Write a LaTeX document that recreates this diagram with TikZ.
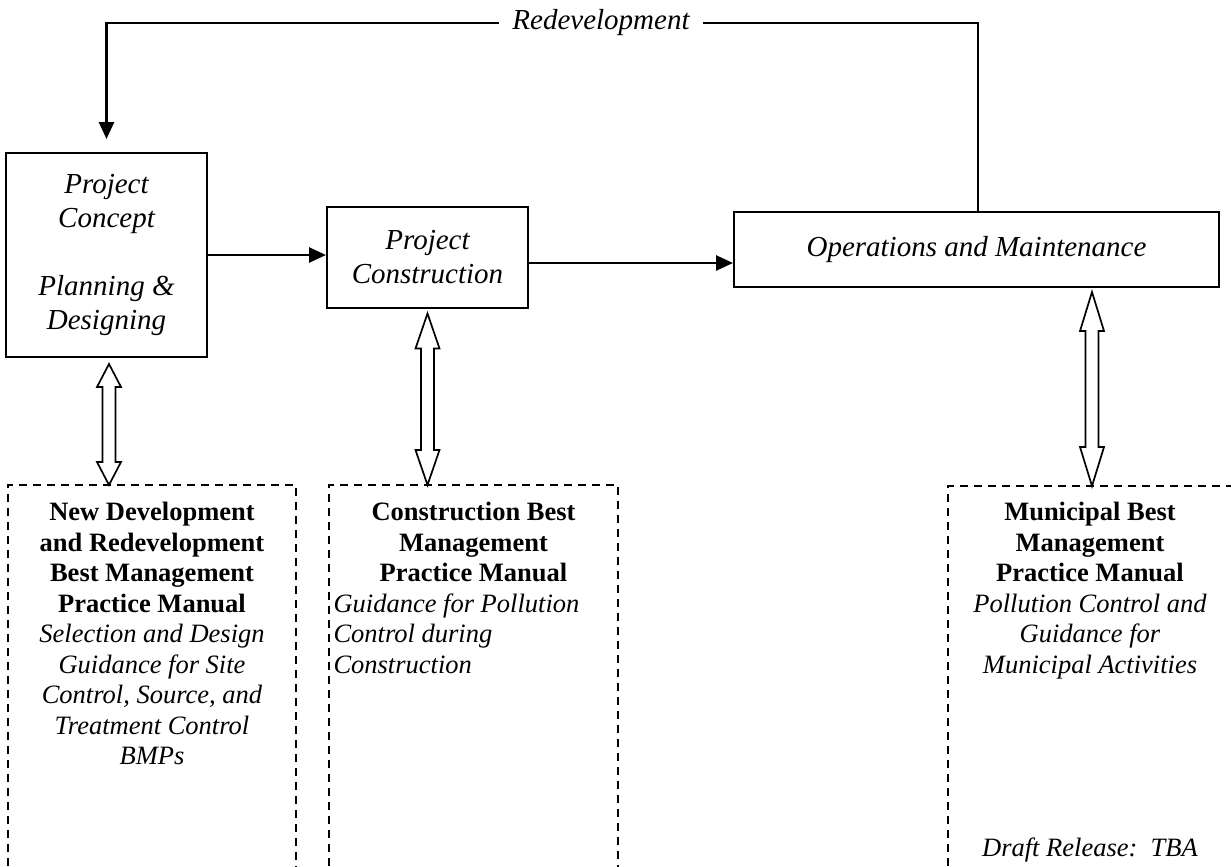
\documentclass[tikz,border=0pt]{standalone}
\usepackage{fontspec}
\setmainfont{Liberation Serif}
\usetikzlibrary{arrows.meta,calc}
\newcommand\topfont{\fontsize{29}{34}\selectfont\itshape}
\newcommand\botfont{\fontsize{26.5}{30.5}\selectfont}
% hollow double arrow between two named coordinates (#1 top, #2 bottom), head length #3
\newcommand\dblarr[3]{%
  \draw[hollow] let \p1=(#1), \p2=(#2) in
    (\x1,\y1) -- (\x1+12pt,\y1-#3pt) -- (\x1+6.5pt,\y1-#3pt) -- (\x1+6.5pt,\y2+#3pt)
    -- (\x1+12pt,\y2+#3pt) -- (\x1,\y2) -- (\x1-12pt,\y2+#3pt) -- (\x1-6.5pt,\y2+#3pt)
    -- (\x1-6.5pt,\y1-#3pt) -- (\x1-12pt,\y1-#3pt) -- cycle;}
\begin{document}
\begin{tikzpicture}[x=1pt,y=-1pt,
  box/.style={draw, line width=2pt, inner sep=0pt, align=center, font=\topfont},
  arr/.style={line width=2.6pt, -{Triangle[length=17pt,width=15pt]}},
  plain/.style={line width=2.6pt},
  hollow/.style={line width=1.7pt, fill=white, line join=miter},
  dbox/.style={line width=2pt, dash pattern=on 8pt off 6pt},
  btext/.style={font=\botfont, inner sep=0pt, align=center}]
\useasboundingbox (0,0) rectangle (1231,867);

% main process boxes
\node[box, minimum width=201pt, minimum height=204pt] (b1) at (106.5,255)
  {Project\\Concept\\[34pt]Planning \&\\Designing};
\node[box, minimum width=201pt, minimum height=101pt] (b2) at (427.5,257)
  {Project\\Construction};
\node[box, minimum width=485pt, minimum height=75pt] (b3) at (976.5,249.5)
  {Operations and Maintenance};

% redevelopment loop
\node[font=\topfont, inner xsep=13pt, inner ysep=0pt, anchor=base] (redev) at (601,30) {Redevelopment};
\draw[plain] ([xshift=1.5pt]b3.north) |- (redev.east);
\draw[arr, shorten >=13pt] (redev.west) -| (b1.north);

% forward arrows
\draw[arr] (b1.east) -- (b1.east -| b2.west);
\draw[arr] ([yshift=-6pt]b2.east) -- ([yshift=-6pt]b2.east -| b3.west);

% dashed manual boxes (open at the bottom edge of the picture)
\coordinate (dA) at (8,485);   \coordinate (dAr) at (296,485);
\coordinate (dB) at (329,485); \coordinate (dBr) at (618,485);
\coordinate (dC) at (948,486); \coordinate (dCr) at (1234,486);
\draw[dbox] (dA |- 0,880) -- (dA) -- (dAr) -- (dAr |- 0,880);
\draw[dbox] (dB |- 0,880) -- (dB) -- (dBr) -- (dBr |- 0,880);
\draw[dbox] (dC |- 0,880) -- (dC) -- (dCr) -- (dCr |- 0,880);

% double arrows
\path ([xshift=2.5pt,yshift=-6pt]b1.south) coordinate (a1t);
\coordinate (a1b) at (a1t |- dA);
\path ([yshift=-5pt]b2.south) coordinate (a2t);
\coordinate (a2b) at (a2t |- dB);
\path ([xshift=115.5pt,yshift=-4pt]b3.south) coordinate (a3t);
\coordinate (a3b) at (a3t |- dC);
\dblarr{a1t}{a1b}{23}
\dblarr{a2t}{a2b}{35}
\dblarr{a3t}{a3b}{39}

% manual texts
\node[btext, anchor=north] (tA) at (152,502)
  {\textbf{New Development}\\\textbf{and Redevelopment}\\\textbf{Best Management}\\\textbf{Practice Manual}\\
   \textit{Selection and Design}\\\textit{Guidance for Site}\\\textit{Control, Source, and}\\
   \textit{Treatment Control}\\\textit{BMPs}};
\node[btext, anchor=north] (tB) at (473.5,502)
  {\textbf{Construction Best}\\\textbf{Management}\\\textbf{Practice Manual}\\
   \makebox[280pt][l]{\itshape Guidance for Pollution}\\
   \makebox[280pt][l]{\itshape Control during}\\
   \makebox[280pt][l]{\itshape Construction}};
\node[btext, anchor=north] (tC) at (1090,502)
  {\textbf{Municipal Best}\\\textbf{Management}\\\textbf{Practice Manual}\\
   \textit{Pollution Control and}\\\textit{Guidance for}\\\textit{Municipal Activities}};
\node[btext, anchor=base] (draft) at (1090,856) {\textit{Draft Release:\ \ TBA}};
\end{tikzpicture}
\end{document}
